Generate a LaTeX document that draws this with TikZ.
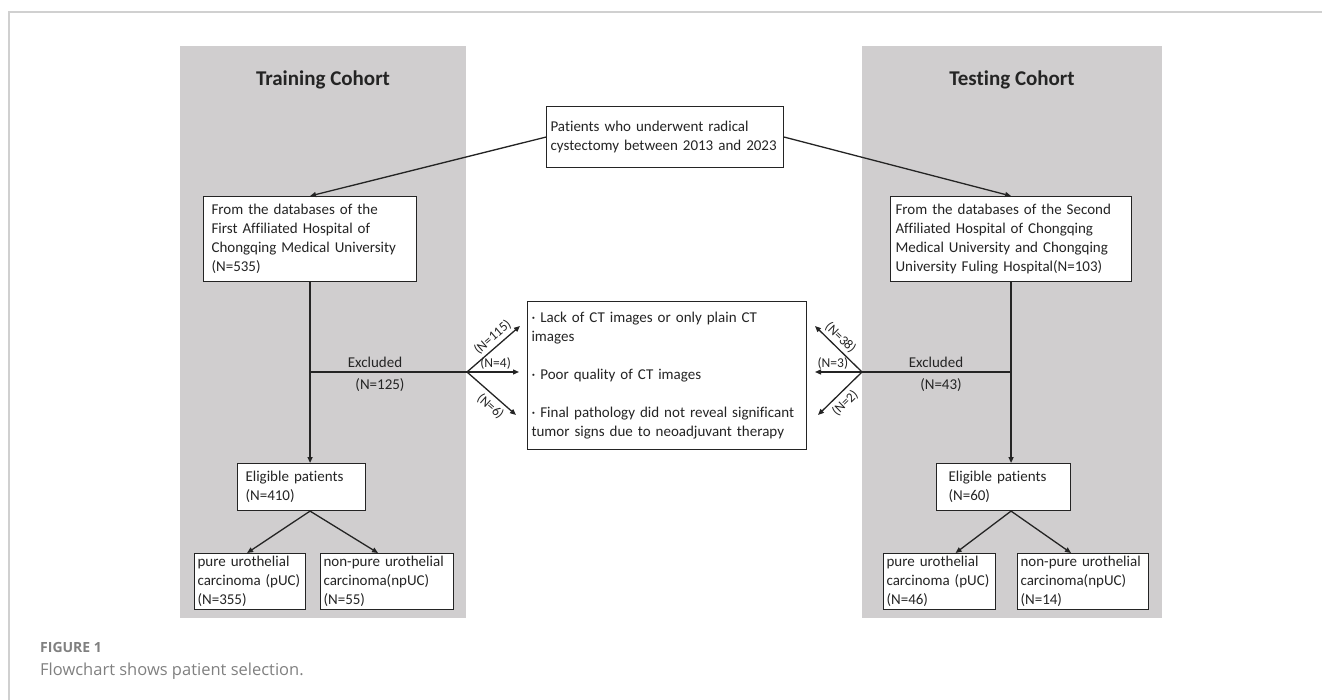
\documentclass[tikz,border=0pt]{standalone}
\usepackage{fontspec}
\setmainfont{Carlito}[Ligatures=NoCommon]
\newfontfamily\capfont{Open Sans}
\usetikzlibrary{arrows.meta}
\definecolor{panelgray}{RGB}{208,206,207}
\definecolor{framegray}{RGB}{208,208,208}
\definecolor{capgray}{RGB}{128,128,128}
\definecolor{ink}{RGB}{36,36,36}
\tikzset{
        panel/.style={fill=panelgray, draw=none},
        box/.style={draw=ink, fill=white, line width=1.1pt, anchor=north west, align=left, inner ysep=0pt, text=ink, font=\fontsize{15}{19}\selectfont},
        cohort/.style={text=ink, font=\fontsize{21}{25}\selectfont\bfseries},
        link/.style={draw=ink, line width=1.3pt, -{Triangle[length=6pt,width=5pt]}},
        stem/.style={draw=ink, line width=1.3pt},
        lbl/.style={text=ink, inner sep=0pt, font=\fontsize{15}{19}\selectfont},
        count/.style={text=ink, inner sep=1pt, font=\fontsize{13.5}{15}\selectfont},
        capline/.style={anchor=base west, inner sep=0pt, text=capgray}
          }
\begin{document}
\begin{tikzpicture}[x=1pt, y=-1pt]
        \useasboundingbox (0,0) rectangle (1322,700);
        \draw[framegray, line width=1.5pt] (1322,12) -- (9,12) -- (9,700);
        \fill[panel] (180,46) rectangle (466,618);
        \fill[panel] (862,46) rectangle (1162,618);
        \node[cohort] (train) at (323,80) {Training Cohort};
        \node[cohort] (test) at (1012,80) {Testing Cohort};

        \node[box, inner xsep=4pt, text width=229pt, minimum height=61pt] (pts) at (546,106)
          {Patients who underwent radical\\cystectomy between 2013 and 2023};
        \node[box, inner xsep=8pt, text width=197pt, minimum height=85pt] (src1) at (203,196)
          {From the databases of the\\First Affiliated Hospital of\\Chongqing Medical University\\(N=535)};
        \node[box, inner xsep=5pt, text width=231pt, minimum height=85pt] (src2) at (890,196)
          {From the databases of the Second\\Affiliated Hospital of Chongqing\\Medical University and Chongqing\\University Fuling Hospital(N=103)};
        \node[box, inner xsep=4pt, text width=271pt, minimum height=148pt] (excl) at (527,301)
          {· Lack of CT images or only plain CT\\images\\[19pt]· Poor quality of CT images\\[19pt]· Final pathology did not reveal significant\\tumor signs due to neoadjuvant therapy};
        \node[box, inner xsep=8pt, text width=112pt, minimum height=47pt] (elig1) at (237,463) {Eligible patients\\(N=410)};
        \node[box, inner xsep=12pt, text width=110pt, minimum height=47pt] (elig2) at (936,463) {Eligible patients\\(N=60)};
        \node[box, inner xsep=3pt, text width=105pt, minimum height=56pt] (puc1) at (194,553) {pure urothelial\\carcinoma (pUC)\\(N=355)};
        \node[box, inner xsep=3pt, text width=127pt, minimum height=56pt] (npuc1) at (320,553) {non-pure urothelial\\carcinoma(npUC)\\(N=55)};
        \node[box, inner xsep=3pt, text width=106pt, minimum height=56pt] (puc2) at (883,553) {pure urothelial\\carcinoma (pUC)\\(N=46)};
        \node[box, inner xsep=3pt, text width=125pt, minimum height=56pt] (npuc2) at (1017,553) {non-pure urothelial\\carcinoma(npUC)\\(N=14)};

        \coordinate (bL) at (467,372);
        \coordinate (bR) at (862,372);
        \coordinate (a1) at (520,326);
        \coordinate (a2) at (519,372);
        \coordinate (a3) at (516,415);
        \coordinate (b1) at (815,326);
        \coordinate (b2) at (815,372);
        \coordinate (b3) at (818,415);

        \draw[link] (pts.west) -- (src1.north);
        \draw[link] (pts.east) -- (src2.north);
        \draw[link] (src1.south) -- (src1.south |- elig1.north);
        \draw[link] (src2.south) -- (src2.south |- elig2.north);
        \draw[stem] (src1.south |- bL) -- (bL);
        \draw[stem] (src2.south |- bR) -- (bR);
        \node[lbl] (ex1) at (375,362) {Excluded};
        \node[lbl] (n1) at (380,385) {(N=125)};
        \node[lbl] (ex2) at (936,362) {Excluded};
        \node[lbl] (n2) at (941,385) {(N=43)};

        \draw[link] (bL) -- (a1) node[count, pos=0.6, above=2pt, sloped] {(N=115)};
        \draw[link] (bL) -- (a2) node[count, pos=0.55, above=1pt] {(N=4)};
        \draw[link] (bL) -- (a3) node[count, pos=0.62, below=3pt, sloped] {(N=6)};
        \draw[link] (bR) -- (b1) node[count, pos=0.6, above=2pt, sloped] {(N=38)};
        \draw[link] (bR) -- (b2) node[count, pos=0.62, above=1pt] {(N=3)};
        \draw[link] (bR) -- (b3) node[count, pos=0.55, below=3pt, sloped] {(N=2)};

        \draw[link] (src1.south |- elig1.south) -- ([xshift=-3pt]puc1.north);
        \draw[link] (src1.south |- elig1.south) -- ([xshift=-9pt]npuc1.north);
        \draw[link] (src2.south |- elig2.south) -- ([xshift=16pt]puc2.north);
        \draw[link] (src2.south |- elig2.south) -- ([xshift=-12pt]npuc2.north);

        \node[capline, font=\capfont\bfseries\fontsize{14}{16}\selectfont] (fig) at (40,652) {FIGURE 1};
        \node[capline, font=\capfont\fontsize{16.5}{20}\selectfont] (cap) at (40,675) {Flowchart shows patient selection.};
\end{tikzpicture}
\end{document}
